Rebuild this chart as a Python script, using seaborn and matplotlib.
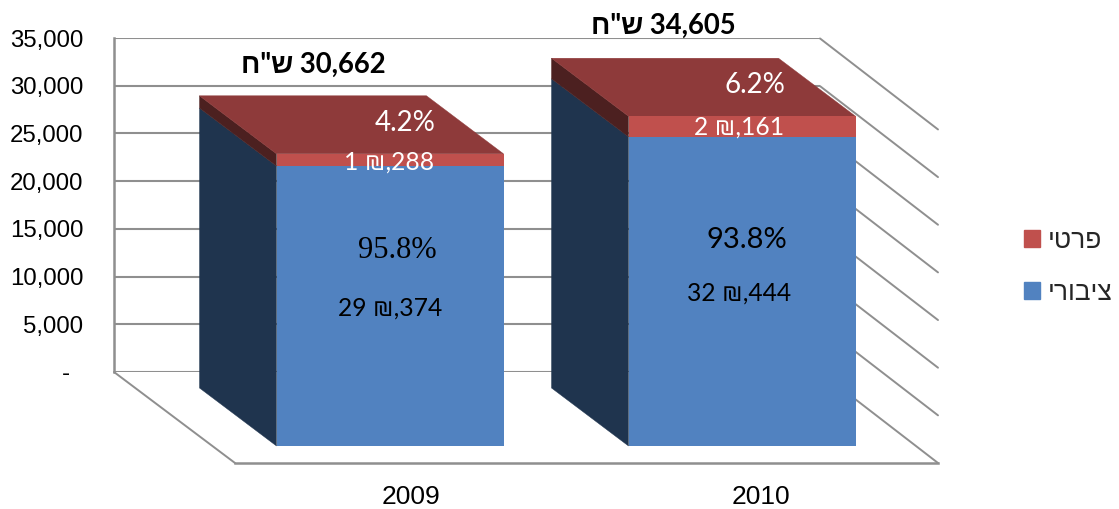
import matplotlib
matplotlib.use("Agg")
import matplotlib.pyplot as plt
from matplotlib.patches import Polygon, Patch
import numpy as np
import seaborn as sns

# ---- data ----
years = ["2009", "2010"]
public = [29374, 32444]
private = [1288, 2161]
totals = [30662, 34605]
public_pct = ["95.8%", "93.8%"]
private_pct = ["4.2%", "6.2%"]
public_lbl = ["29 ₪,374", "32 ₪,444"]
private_lbl = ["1 ₪,288", "2 ₪,161"]
total_lbl = ['ח"ש 30,662', 'ח"ש 34,605']      # visual order (matplotlib has no bidi)
legend_private = "פרטי"[::-1]
legend_public = "ציבורי"[::-1]
yticks = [0, 5000, 10000, 15000, 20000, 25000, 30000, 35000]
yticklabels = ["-\u2007", "5,000", "10,000", "15,000", "20,000", "25,000", "30,000", "35,000"]

# ---- style ----
BLUE, RED = "#5182C0", "#C0504D"
NAVY, DARKRED, TOPRED = "#1F344E", "#4C2020", "#8E3A3A"
GRID = "#8F8F8F"
SANS = ["Liberation Sans", "DejaVu Sans"]
CAL = ["Lato", "Liberation Sans", "DejaVu Sans"]

W, H = 1119, 509
sns.set_theme(style="white")
plt.rcParams["font.family"] = SANS
fig = plt.figure(figsize=(W / 100, H / 100), dpi=100)


def axes_px(x0, y0, x1, y1):
    return fig.add_axes([x0 / W, 1 - y1 / H, (x1 - x0) / W, (y1 - y0) / H])


# back wall axis
back = axes_px(114, 38, 820, 372)
back.set_ylim(0, 35000)
back.set_xlim(0, 1)
back.set_yticks(yticks)
back.set_yticklabels(yticklabels, fontsize=17.3, color="black")
back.set_xticks([])
back.tick_params(axis="y", length=0, pad=22)
back.grid(axis="y", color=GRID, lw=1.5)
for s in back.spines.values():
    s.set_visible(False)
back.spines["left"].set_visible(True)
back.spines["left"].set_color(GRID)
back.spines["left"].set_linewidth(1.8)
back.set_axisbelow(True)

# front plane axis: one unit of x = 352 px, scale in y = 0.00953 px per unit
PXX, PXY = 352.0, 0.00953
X0PX, Y0PX = 390.0, 446.0
ax = axes_px(235, 0, 938, 463)
ax.patch.set_alpha(0)
BAR_W = 227 / PXX

frame_x = (np.array([235, 938]) - X0PX) / PXX
sns.barplot(x=years, y=totals, color=RED, saturation=1, width=BAR_W, ax=ax, zorder=3, linewidth=0)
sns.barplot(x=years, y=public, color=BLUE, saturation=1, width=BAR_W, ax=ax, zorder=3, linewidth=0)
ax.set_xlim(*frame_x)
ax.set_ylim((Y0PX - 463) / PXY, Y0PX / PXY)
ax.set_yticks([])
ax.set_xticks([0.06, 1.055])
ax.set_xticklabels(years, fontsize=19, color="black")
ax.tick_params(axis="x", length=0, pad=15.5)
for n, s in ax.spines.items():
    s.set_visible(n == "bottom")
ax.spines["bottom"].set_color(GRID)
ax.spines["bottom"].set_linewidth(1.8)


def to_data(px, py):
    return (px - X0PX) / PXX, (Y0PX - py) / PXY


# side lines of the wall and floor
bx, by0 = to_data(820, 372)
fx, fy0 = to_data(938, 463)
lx_b, _ = to_data(114, 372)
lx_f, _ = to_data(235, 463)
for v in yticks[1:]:
    ax.plot([bx, fx], [by0 + v, fy0 + v], color=GRID, lw=1.4, clip_on=False, zorder=1)
ax.plot([bx, fx], [by0, fy0], color=GRID, lw=1.4, clip_on=False, zorder=1)
ax.plot([lx_b, lx_f], [by0, fy0], color=GRID, lw=1.4, clip_on=False, zorder=1)

# bar depth
DX, DY = -77 / PXX, 58 / PXY
for i in range(len(years)):
    l, r = i - BAR_W / 2, i + BAR_W / 2
    pub, tot = public[i], totals[i]
    polys = [
        ([(l, 0), (l, pub), (l + DX, pub + DY), (l + DX, DY)], NAVY),
        ([(l, pub), (l, tot), (l + DX, tot + DY), (l + DX, pub + DY)], DARKRED),
        ([(l, tot), (r, tot), (r + DX, tot + DY), (l + DX, tot + DY)], TOPRED),
    ]
    for pts, c in polys:
        ax.add_patch(Polygon(pts, closed=True, fc=c, ec=c, lw=0.3, clip_on=False, zorder=2))

# labels
label_spec = [
    (private_pct[0], 405, 123, "white", CAL, "normal", 20),
    (private_pct[1], 755, 85, "white", CAL, "normal", 20),
    (private_lbl[0], 389, 162, "white", CAL, "normal", 17.7),
    (private_lbl[1], 739, 127, "white", CAL, "normal", 17.7),
    (public_pct[0], 397, 250, "black", ["Liberation Serif"], "normal", 22),
    (public_pct[1], 747, 240, "black", CAL, "normal", 21),
    (public_lbl[0], 390, 308, "black", CAL, "normal", 17.7),
    (public_lbl[1], 739, 293, "black", CAL, "normal", 17.7),
    (total_lbl[0], 313, 64.5, "black", CAL, "bold", 19.8),
    (total_lbl[1], 663, 25.5, "black", CAL, "bold", 19.8),
]
for s, px, py, c, fam, wt, fs in label_spec:
    x, y = to_data(px, py)
    ax.text(x, y, s, color=c, family=fam, weight=wt, fontsize=fs,
            ha="center", va="center", zorder=5, clip_on=False)

# legend
handles = [Patch(fc=RED, ec=RED), Patch(fc=BLUE, ec=BLUE)]
fig.legend(handles, [legend_private, legend_public], loc="center left",
           bbox_to_anchor=(1024 / W, 1 - 267 / H), frameon=False, fontsize=19,
           handlelength=0.62, handleheight=0.62, handletextpad=0.28, labelspacing=1.05,
           borderpad=0, borderaxespad=0)

fig.savefig("out.png", dpi=100)
